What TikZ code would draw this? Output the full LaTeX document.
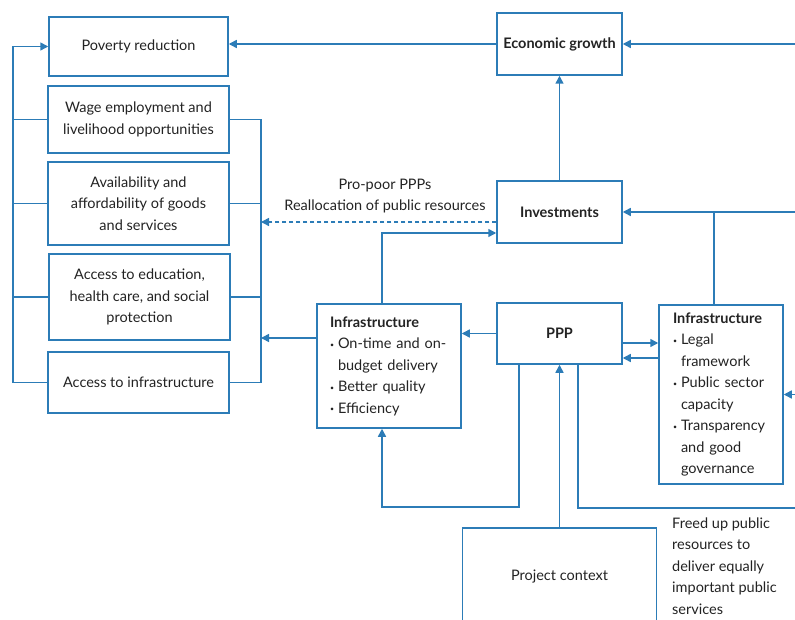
\documentclass[tikz,border=0pt]{standalone}
\usepackage{fontspec}
\setmainfont{Lato}
\usetikzlibrary{arrows.meta}
\definecolor{lb}{RGB}{44,124,183}
\definecolor{tx}{RGB}{35,35,35}
\newcommand\bul{\makebox[8pt][l]{\raisebox{1.5pt}{\fontsize{7}{7}\selectfont\textbullet}}}
\newcommand\ind{\hspace*{8pt}}
\begin{document}
\begin{tikzpicture}[x=1pt,y=-1pt,
  box/.style={draw=lb,line width=1.5pt,fill=white,inner sep=0pt,text=tx,align=center,
    font=\fontsize{14.5}{21.5}\selectfont},
  ln/.style={draw=lb,line width=1.5pt},
  arr/.style={ln,-{Triangle[length=8pt,width=8pt]}},
  lbl/.style={text=tx,font=\fontsize{14.5}{21.5}\selectfont,inner sep=0pt}]
\useasboundingbox (0,0) rectangle (795,620);
% left column
\node[box,minimum width=179pt,minimum height=59pt] (pov) at (138.5,46.5) {Poverty reduction};
\node[box,minimum width=181pt,minimum height=67pt] (wage) at (138.5,119.5) {Wage employment and\\livelihood opportunities};
\node[box,minimum width=181pt,minimum height=83pt] (avail) at (138.5,203.5) {Availability and\\affordability of goods\\and services};
\node[box,minimum width=181pt,minimum height=86pt] (educ) at (139.5,297) {Access to education,\\health care, and social\\protection};
\node[box,minimum width=181pt,minimum height=61pt] (acc) at (138.5,382.5) {Access to infrastructure};
% middle / right
\node[box,minimum width=125pt,minimum height=62pt,font=\fontsize{14.5}{21.5}\selectfont\bfseries] (econ) at (559.5,44) {Economic growth};
\node[box,minimum width=125pt,minimum height=62pt,font=\fontsize{14.5}{21.5}\selectfont\bfseries] (inv) at (559.5,212) {Investments};
\node[box,minimum width=125pt,minimum height=61pt,font=\fontsize{14.5}{21.5}\selectfont\bfseries] (ppp) at (559.5,333.5) {PPP};
\node[box,minimum width=144pt,minimum height=124pt,text width=118pt,align=left] (infL) at (389,366)
  {\mbox{\bfseries Infrastructure}\\\mbox{\bul On-time and on-}\\\mbox{\ind budget delivery}\\\mbox{\bul Better quality}\\\mbox{\bul Efficiency}};
\node[box,minimum width=124pt,minimum height=179pt,text width=96pt,align=left] (infR) at (721,394.5)
  {\mbox{\bfseries Infrastructure}\\\mbox{\bul Legal}\\\mbox{\ind framework}\\\mbox{\bul Public sector}\\\mbox{\ind capacity}\\\mbox{\bul Transparency}\\\mbox{\ind and good}\\\mbox{\ind governance}};
\node[box,minimum width=194pt,minimum height=98pt] (proj) at (559.5,577) {Project context};
\node[lbl,align=center] (lab) at (385,196) {Pro-poor PPPs\\Reallocation of public resources};
\node[lbl,align=left,anchor=west] (freed) at (672,566) {Freed up public\\resources to\\deliver equally\\important public\\services};
% helper coordinates
\coordinate (lbx) at (13,0);
\coordinate (rbx) at (261,0);
\coordinate (redge) at (795,0);
\coordinate (c1) at (382,0);
\coordinate (c2) at (714,0);
\coordinate (c3) at (519,507);
\coordinate (c4) at (578,508);
% left bus
\draw[arr] (acc.west) -- (acc.west -| lbx) |- (pov.west);
\foreach \n in {wage,avail,educ} \draw[ln] (\n.west) -- (\n.west -| lbx);
% right bus
\draw[ln] (wage.east) -- (wage.east -| rbx) -- (acc.east -| rbx) -- (acc.east);
\foreach \n in {avail,educ} \draw[ln] (\n.east) -- (\n.east -| rbx);
% connectors
\draw[arr,dash pattern=on 4pt off 3pt] ([yshift=-10pt]inv.west) -- ([yshift=-10pt]inv.west -| rbx);
\draw[arr] ([yshift=28pt]infL.west) -- ([yshift=28pt]infL.west -| rbx);
\draw[arr] (infL.north -| c1) |- ([yshift=-21pt]inv.west);
\draw[arr] (econ.east -| redge) -- (econ.east);
\draw[arr] (econ.west) -- (econ.west -| pov.east);
\draw[arr] (inv.north) -- (econ.south);
\draw[arr] (inv.east -| redge) -- (inv.east);
\draw[ln] (infR.north -| c2) -- (inv.east -| c2);
\draw[arr] (ppp.west) -- (ppp.west -| infL.east);
\draw[arr] ([yshift=-9.5pt]ppp.east) -- ([yshift=-9.5pt]ppp.east -| infR.west);
\draw[arr] ([yshift=-24.5pt]ppp.east -| infR.west) -- ([yshift=-24.5pt]ppp.east);
\draw[arr] (infR.east -| redge) -- (infR.east);
\draw[arr] (ppp.south -| c3) -- (c3) -| (infL.south -| c1);
\draw[arr] (proj.north) -- (ppp.south);
\draw[ln] (ppp.south -| c4) -- (c4) -- (c4 -| redge);
\end{tikzpicture}
\end{document}
